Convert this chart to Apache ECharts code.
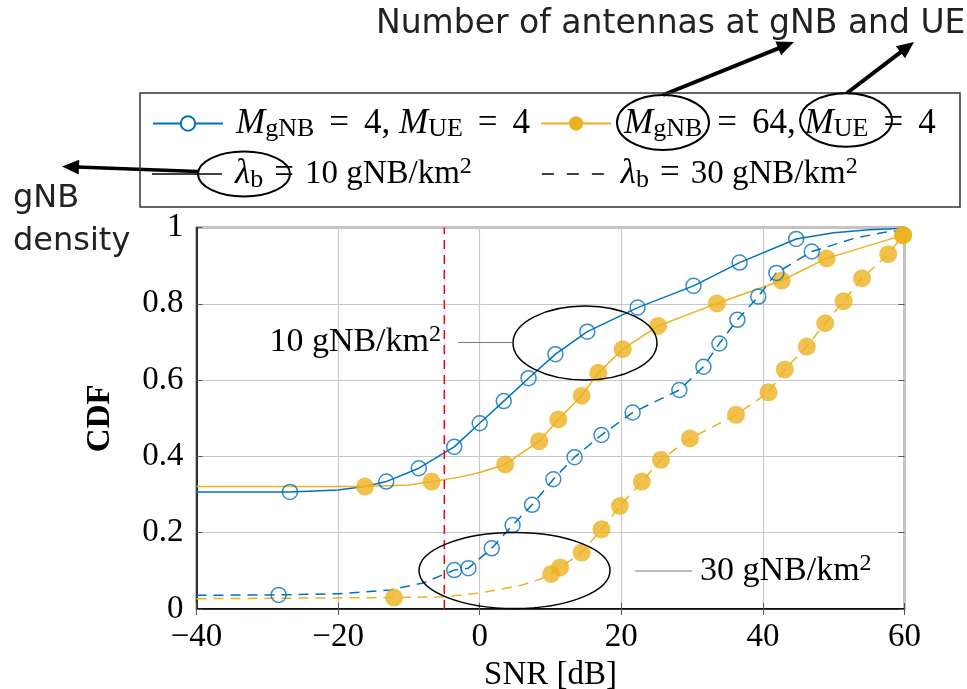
<!DOCTYPE html>
<html lang="en">
<head>
    <meta charset="UTF-8">
    <title>CDF of SNR</title>
    <style>
        html, body { margin: 0; padding: 0; background: #fff; }
        #chart { width: 967px; height: 689px; }
    </style>
</head>
<body>
    <div id="chart"></div>
    <script src="https://cdn.jsdelivr.net/npm/echarts@6/dist/echarts.min.js"></script>
    <script>
        // ---- data: [SNR dB, CDF] ----
        const xTicks = [-40, -20, 0, 20, 40, 60];
        const yTicks = [0, 0.2, 0.4, 0.6, 0.8, 1];
        const snrThreshold = -5;

        // M_gNB = 4, M_UE = 4, lambda_b = 10 gNB/km^2
        const blue10Curve = [[-40, 0.307], [-26.8, 0.307], [-20, 0.312], [-16, 0.322], [-13.2, 0.334], [-8.6, 0.369],
            [-3.6, 0.425], [0, 0.487], [3.4, 0.545], [6.9, 0.605], [10.7, 0.668], [15.2, 0.727], [22.3, 0.79],
            [30.2, 0.847], [36.7, 0.908], [44.7, 0.97], [50, 0.986], [55, 0.994], [60, 0.998]];
        const blue10Marks = [[-26.8, 0.307], [-13.2, 0.334], [-8.6, 0.369], [-3.6, 0.425], [0, 0.487], [3.4, 0.545],
            [6.9, 0.605], [10.7, 0.668], [15.2, 0.727], [22.3, 0.79], [30.2, 0.847], [36.7, 0.908], [44.7, 0.97]];

        // M_gNB = 64, M_UE = 4, lambda_b = 10 gNB/km^2
        const orange10Curve = [[-40, 0.321], [-16.2, 0.321], [-10, 0.325], [-6.8, 0.334], [-3, 0.345], [0, 0.358],
            [3.6, 0.379], [8.4, 0.44], [11.1, 0.497], [14.4, 0.559], [16.75, 0.619], [20.2, 0.681], [25.2, 0.742],
            [33.5, 0.801], [42.65, 0.861], [49, 0.919], [59.8, 0.98], [60, 0.98]];
        const orange10Marks = [[-16.2, 0.321], [-6.8, 0.334], [3.6, 0.379], [8.4, 0.44], [11.1, 0.497], [14.4, 0.559],
            [16.75, 0.619], [20.2, 0.681], [25.2, 0.742], [33.5, 0.801], [42.65, 0.861], [49, 0.919], [59.8, 0.98]];

        // M_gNB = 4, M_UE = 4, lambda_b = 30 gNB/km^2
        const blue30Curve = [[-40, 0.036], [-28.4, 0.037], [-20, 0.04], [-12.7, 0.05], [-8, 0.068], [-3.6, 0.102],
            [-1.6, 0.107], [1.7, 0.159], [4.65, 0.22], [7.4, 0.273], [10.4, 0.34], [13.4, 0.398], [17.2, 0.456],
            [21.6, 0.515], [28.2, 0.574], [31.6, 0.635], [33.85, 0.696], [36.4, 0.758], [39.35, 0.819],
            [41.9, 0.881], [46.9, 0.937], [53, 0.972], [57, 0.987], [60, 0.994]];
        const blue30Marks = [[-28.4, 0.037], [-3.6, 0.102], [-1.6, 0.107], [1.7, 0.159], [4.65, 0.22], [7.4, 0.273],
            [10.4, 0.34], [13.4, 0.398], [17.2, 0.456], [21.6, 0.515], [28.2, 0.574], [31.6, 0.635], [33.85, 0.696],
            [36.4, 0.758], [39.35, 0.819], [41.9, 0.881], [46.9, 0.937]];

        // M_gNB = 64, M_UE = 4, lambda_b = 30 gNB/km^2
        const orange30Curve = [[-40, 0.027], [-12.1, 0.03], [-5, 0.032], [0, 0.042], [3, 0.052], [6, 0.063],
            [8.5, 0.078], [10.1, 0.092], [11.35, 0.109], [14.4, 0.148], [17.2, 0.209], [19.8, 0.27], [22.9, 0.334],
            [25.6, 0.391], [29.7, 0.447], [36.2, 0.509], [40.8, 0.568], [43.1, 0.628], [46.2, 0.688], [48.8, 0.749],
            [51.4, 0.807], [54, 0.867], [57.7, 0.93], [59.8, 0.98], [60, 0.98]];
        const orange30Marks = [[-12.1, 0.03], [10.1, 0.092], [11.35, 0.109], [14.4, 0.148], [17.2, 0.209], [19.8, 0.27],
            [22.9, 0.334], [25.6, 0.391], [29.7, 0.447], [36.2, 0.509], [40.8, 0.568], [43.1, 0.628], [46.2, 0.688],
            [48.8, 0.749], [51.4, 0.807], [54, 0.867], [57.7, 0.93], [59.8, 0.98]];

        const BLUE = '#0072BD';
        const ORANGE = '#EDB120';
        const SERIF = '"Liberation Serif", "Times New Roman", serif';
        const SANS = '"DejaVu Sans", sans-serif';

        const NAME_A = 'M_gNB = 4, M_UE = 4';
        const NAME_B = 'M_gNB = 64, M_UE = 4';
        const NAME_C = 'lambda_b = 10 gNB/km2';
        const NAME_D = 'lambda_b = 30 gNB/km2';

        // rich text pieces for the math labels
        const mathRich = {
            m0: { fontFamily: SERIF, fontStyle: 'italic', fontSize: 35, lineHeight: 38, color: '#000', padding: [0, 0, 0, 8] },
            m: { fontFamily: SERIF, fontStyle: 'italic', fontSize: 35, lineHeight: 38, color: '#000' },
            s: { fontFamily: SERIF, fontSize: 26, lineHeight: 14, verticalAlign: 'bottom', color: '#000' },
            p: { fontFamily: SERIF, fontSize: 24, lineHeight: 16, verticalAlign: 'top', color: '#000' },
            t: { fontFamily: SERIF, fontSize: 35, lineHeight: 38, color: '#000' },
            e: { fontFamily: SERIF, fontSize: 35, lineHeight: 38, color: '#000', padding: [0, 15, 0, 15] },
            e2: { fontFamily: SERIF, fontSize: 35, lineHeight: 38, color: '#000', padding: [0, 11, 0, 11] },
            t2: { fontFamily: SERIF, fontSize: 33, lineHeight: 38, color: '#000' },
            a: { fontFamily: SERIF, fontSize: 34, lineHeight: 38, color: '#000' }
        };
        const legendText = {};
        legendText[NAME_A] = '{m0|M}{s|gNB}{e|=}{t|4, }{m|M}{s|UE}{e|=}{t|4}';
        legendText[NAME_B] = '{m0|M}{s|gNB}{e|=}{t|64, }{m|M}{s|UE}{e|=}{t|4}';
        legendText[NAME_C] = '{m0|λ}{s|b}{e2|=}{t2|10 gNB/km}{p|2}';
        legendText[NAME_D] = '{m0|λ}{s|b}{e2|=}{t2|30 gNB/km}{p|2}';

        function arrow(x1, y1, x2, y2, w) {
            const a = Math.atan2(y2 - y1, x2 - x1);
            const len = 17, half = 7.5;
            const bx = x2 - len * Math.cos(a), by = y2 - len * Math.sin(a);
            return [{
                type: 'line',
                shape: { x1: x1, y1: y1, x2: bx + 2 * Math.cos(a), y2: by + 2 * Math.sin(a) },
                style: { stroke: '#000', lineWidth: w }
            }, {
                type: 'polygon',
                shape: { points: [[x2, y2], [bx + half * Math.sin(a), by - half * Math.cos(a)], [bx - half * Math.sin(a), by + half * Math.cos(a)]] },
                style: { fill: '#000' }
            }];
        }

        let myChart = echarts.init(document.getElementById('chart'));

        const curveSeries = function (name, curve, color, dashed, symbol) {
            return {
                name: name,
                type: 'line',
                data: curve,
                symbol: symbol,
                showSymbol: false,
                silent: true,
                lineStyle: { color: color, width: 1.5, type: dashed ? [10, 7] : 'solid' },
                itemStyle: { color: color },
                z: 3
            };
        };
        const markSeries = function (marks, color, filled) {
            return {
                type: 'scatter',
                data: marks,
                symbol: 'circle',
                symbolSize: filled ? 18 : 15,
                silent: true,
                itemStyle: filled ? { color: color } : { color: 'rgba(255,255,255,0)', borderColor: color, borderWidth: 1.5 },
                z: 4
            };
        };

        let option = {
            animation: false,
            backgroundColor: '#fff',
            grid: {
                left: 196.5, right: 62.5, top: 227.5, bottom: 80,
                outerBoundsMode: 'none',
                show: true, borderColor: '#000', borderWidth: 1.5
            },
            legend: [{
                left: 152, top: 106, padding: 0,
                itemWidth: 70, itemHeight: 18, itemGap: 10,
                selectedMode: false,
                data: [NAME_A, NAME_B],
                formatter: function (n) { return legendText[n]; },
                textStyle: { rich: mathRich }
            }, {
                left: 152, top: 155, padding: 0,
                itemWidth: 70, itemHeight: 1.5, itemGap: 70,
                selectedMode: false,
                data: [
                    { name: NAME_C, icon: 'rect' },
                    { name: NAME_D, icon: 'path://M0,0h12v1.5h-12zM25,0h12v1.5h-12zM50,0h12v1.5h-12z' }
                ],
                formatter: function (n) { return legendText[n]; },
                textStyle: { rich: mathRich }
            }],
            xAxis: [{
                type: 'value', min: xTicks[0], max: xTicks[xTicks.length - 1], interval: 20,
                name: 'SNR [dB]', nameLocation: 'middle', nameGap: 45,
                nameTextStyle: { fontFamily: SERIF, fontSize: 33, color: '#000' },
                axisLine: { onZero: false, lineStyle: { color: '#000', width: 1.5 } },
                axisTick: { inside: true, length: 6, lineStyle: { color: '#555' } },
                axisLabel: {
                    margin: 12, fontFamily: SERIF, fontSize: 33, color: '#000',
                    formatter: function (v) { return v < 0 ? '\u2212' + (-v) : String(v); }
                },
                splitLine: { lineStyle: { color: '#c8c8c8', width: 1.2 } }
            }, {
                type: 'value', position: 'top', min: xTicks[0], max: xTicks[xTicks.length - 1], interval: 20,
                axisLine: { show: false },
                axisTick: { inside: true, length: 6, lineStyle: { color: '#555' } },
                axisLabel: { show: false }, splitLine: { show: false }
            }],
            yAxis: [{
                type: 'value', min: yTicks[0], max: yTicks[yTicks.length - 1], interval: 0.2,
                name: 'CDF', nameLocation: 'middle', nameGap: 80,
                nameTextStyle: { fontFamily: SERIF, fontSize: 33, fontWeight: 'bold', color: '#000' },
                axisLine: { show: true, onZero: false, lineStyle: { color: '#000', width: 1.5 } },
                axisTick: { show: true, inside: true, length: 6, lineStyle: { color: '#555' } },
                axisLabel: { margin: 13, fontFamily: SERIF, fontSize: 33, color: '#000' },
                splitLine: { lineStyle: { color: '#c8c8c8', width: 1.2 } }
            }, {
                type: 'value', position: 'right', min: yTicks[0], max: yTicks[yTicks.length - 1], interval: 0.2,
                axisLine: { show: false, onZero: false },
                axisTick: { show: true, inside: true, length: 6, lineStyle: { color: '#555' } },
                axisLabel: { show: false }, splitLine: { show: false }
            }],
            series: [
                curveSeries(NAME_A, blue10Curve, BLUE, false, 'emptyCircle'),
                curveSeries(NAME_B, orange10Curve, ORANGE, false, 'circle'),
                curveSeries('blue30', blue30Curve, BLUE, true, 'emptyCircle'),
                curveSeries('orange30', orange30Curve, ORANGE, true, 'circle'),
                markSeries(blue10Marks, BLUE, false),
                markSeries(orange10Marks, ORANGE, true),
                markSeries(blue30Marks, BLUE, false),
                markSeries(orange30Marks, ORANGE, true),
                {
                    type: 'line', silent: true, symbol: 'none', z: 5,
                    data: [[snrThreshold, yTicks[0]], [snrThreshold, yTicks[yTicks.length - 1]]],
                    lineStyle: { color: '#ff0000', width: 1.5, type: [9, 6] }
                },
                // legend-only entries (gNB density line styles)
                { name: NAME_C, type: 'line', data: [], color: '#000', lineStyle: { color: '#000' } },
                { name: NAME_D, type: 'line', data: [], color: '#000', lineStyle: { color: '#000', type: 'dashed' } }
            ],
            graphic: [
                // legend frame
                { type: 'rect', shape: { x: 140, y: 93, width: 820, height: 114 }, style: { fill: null, stroke: '#333', lineWidth: 1.5 }, z: 1 },
                // titles
                { type: 'text', style: { x: 376, y: 24, text: 'Number of antennas at gNB and UE', fontFamily: SANS, fontSize: 33, fill: '#222', textVerticalAlign: 'middle' }, z: 10 },
                { type: 'text', style: { x: 13, y: 199, text: 'gNB', fontFamily: SANS, fontSize: 32, fill: '#222', textVerticalAlign: 'middle' }, z: 10 },
                { type: 'text', style: { x: 13, y: 242, text: 'density', fontFamily: SANS, fontSize: 32, fill: '#222', textVerticalAlign: 'middle' }, z: 10 },
                // legend ellipses
                { type: 'ellipse', shape: { cx: 663, cy: 122.5, rx: 46, ry: 27.5 }, style: { fill: null, stroke: '#000', lineWidth: 2 }, z: 10 },
                { type: 'ellipse', shape: { cx: 846, cy: 120, rx: 46, ry: 26.7 }, style: { fill: null, stroke: '#000', lineWidth: 2 }, z: 10 },
                { type: 'ellipse', shape: { cx: 244, cy: 174, rx: 46, ry: 22.5 }, style: { fill: null, stroke: '#000', lineWidth: 2 }, z: 10 }
            ].concat(
                arrow(663, 95, 794, 42, 4),
                arrow(847, 93, 914, 42, 4),
                arrow(198, 171.5, 62, 166.5, 3.5),
                [
                    // plot annotations
                    { type: 'ellipse', shape: { cx: 585, cy: 343, rx: 72, ry: 37 }, style: { fill: null, stroke: '#000', lineWidth: 1.5 }, z: 10 },
                    { type: 'ellipse', shape: { cx: 514.5, cy: 570.5, rx: 95.5, ry: 38 }, style: { fill: null, stroke: '#000', lineWidth: 1.5 }, z: 10 },
                    { type: 'line', shape: { x1: 458, y1: 342.5, x2: 513, y2: 342.5 }, style: { stroke: '#777', lineWidth: 1 }, z: 10 },
                    { type: 'line', shape: { x1: 635, y1: 571, x2: 692, y2: 571 }, style: { stroke: '#777', lineWidth: 1 }, z: 10 },
                    { type: 'text', style: { x: 441, y: 342, text: '{a|10 gNB/km}{p|2}', rich: mathRich, textAlign: 'right', textVerticalAlign: 'middle' }, z: 10 },
                    { type: 'text', style: { x: 700, y: 571, text: '{a|30 gNB/km}{p|2}', rich: mathRich, textAlign: 'left', textVerticalAlign: 'middle' }, z: 10 }
                ]
            )
        };
        myChart.setOption(option, true);
    </script>
</body>
</html>
